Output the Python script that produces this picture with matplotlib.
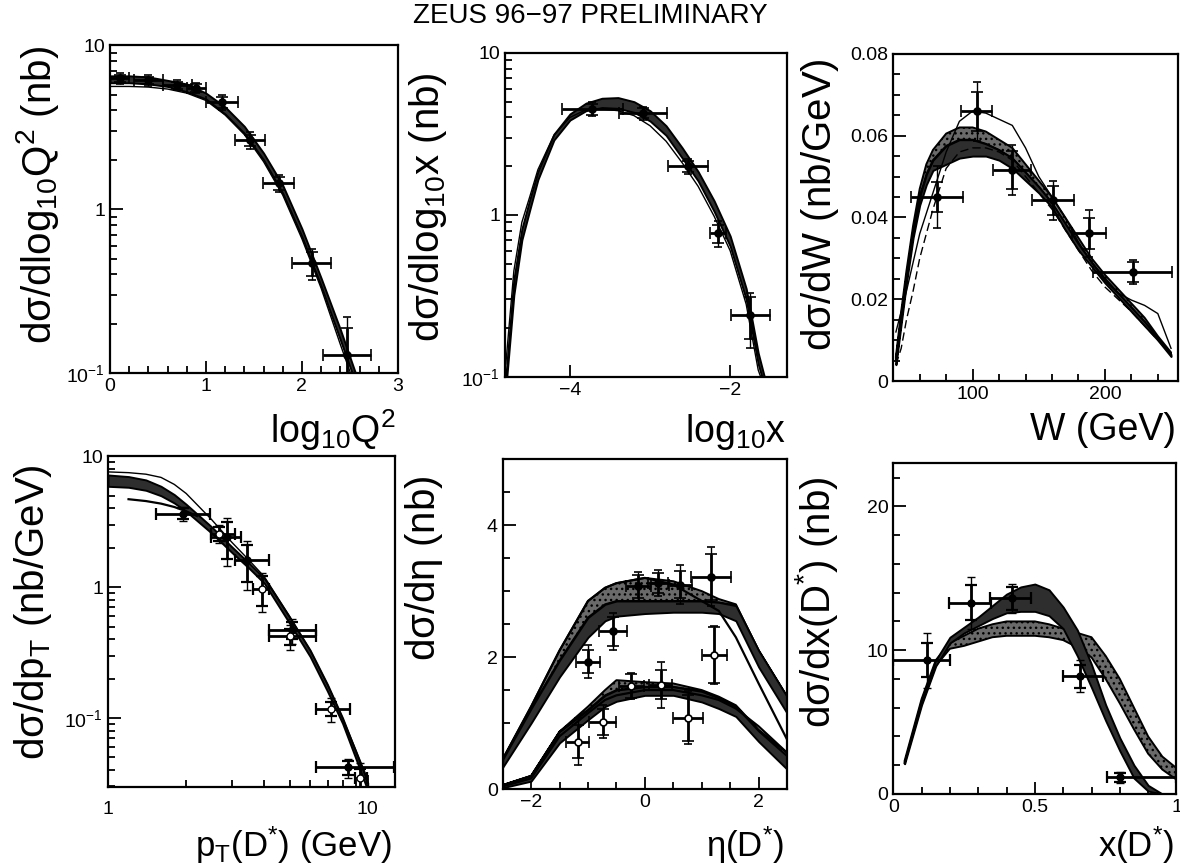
import matplotlib
matplotlib.use("Agg")
import matplotlib.pyplot as plt
from matplotlib.ticker import MultipleLocator, FixedLocator, NullFormatter, FuncFormatter

plt.rcParams['font.family'] = ['Liberation Sans', 'DejaVu Sans']
plt.rcParams['mathtext.default'] = 'regular'

# ---------------- Panel 1: log10 Q^2 ----------------
q2_x = [0.1, 0.4, 0.7, 0.9, 1.165, 1.46, 1.757, 2.10, 2.47]
q2_xerr = [0.1, 0.15, 0.15, 0.1, 0.165, 0.16, 0.16, 0.2, 0.25]
q2_y = [6.3, 6.1, 5.7, 5.5, 4.5, 2.64, 1.44, 0.47, 0.13]
q2_stat = [0.3, 0.3, 0.3, 0.3, 0.35, 0.2, 0.14, 0.08, 0.06]
q2_tot = [0.5, 0.45, 0.4, 0.4, 0.45, 0.3, 0.17, 0.1, 0.09]
q2_grid = [0, 0.2, 0.4, 0.6, 0.8, 1.0, 1.2, 1.4, 1.6, 1.8, 2.0, 2.2, 2.4, 2.6]
q2_lo = [5.9, 5.9, 5.8, 5.6, 5.2, 4.7, 3.8, 2.9, 2.0, 1.25, 0.68, 0.34, 0.16, 0.075]
q2_hi = [6.5, 6.5, 6.4, 6.1, 5.8, 5.1, 4.2, 3.2, 2.2, 1.4, 0.76, 0.38, 0.185, 0.085]
q2_thin = [5.6, 5.6, 5.55, 5.4, 5.1, 4.6, 3.75, 2.85, 1.95, 1.22, 0.66, 0.33, 0.15, 0.07]

# ---------------- Panel 2: log10 x ----------------
lx_x = [-3.72, -3.09, -2.53, -2.15, -1.75]
lx_xerr = [0.385, 0.3, 0.25, 0.1, 0.245]
lx_y = [4.5, 4.25, 2.0, 0.77, 0.24]
lx_stat = [0.35, 0.3, 0.15, 0.1, 0.07]
lx_tot = [0.45, 0.4, 0.2, 0.14, 0.09]
lx_grid = [-4.8, -4.7, -4.6, -4.5, -4.4, -4.2, -4.0, -3.8, -3.6, -3.4, -3.2, -3.0,
           -2.8, -2.6, -2.4, -2.2, -2.0, -1.8, -1.65, -1.55]
lx_hi = [0.10, 0.40, 0.82, 1.25, 1.85, 3.15, 4.2, 4.9, 5.25, 5.3, 5.0, 4.4,
         3.55, 2.6, 1.85, 1.22, 0.74, 0.35, 0.14, 0.09]
lx_lo = [0.085, 0.32, 0.70, 1.08, 1.65, 2.9, 3.85, 4.4, 4.6, 4.55, 4.3, 3.8,
         3.1, 2.25, 1.62, 1.05, 0.64, 0.30, 0.12, 0.08]
lx_thin = [0.12, 0.45, 0.9, 1.3, 1.9, 3.1, 4.0, 4.45, 4.5, 4.4, 4.1, 3.55,
           2.85, 2.1, 1.5, 0.98, 0.6, 0.28, 0.11, 0.08]

# ---------------- Panel 3: W ----------------
w_x = [73, 103, 130, 161, 188, 221]
w_xerr = [19.5, 12, 14.5, 16, 13, 30]
w_y = [0.045, 0.0659, 0.0516, 0.0442, 0.0361, 0.0267]
w_stat = [0.0037, 0.0048, 0.0047, 0.0035, 0.0038, 0.0025]
w_tot = [0.0075, 0.0073, 0.006, 0.0048, 0.0058, 0.003]
w_grid = [42, 46, 50, 55, 60, 65, 70, 80, 90, 100, 110, 120, 130, 140, 150, 160,
          170, 180, 190, 200, 210, 220, 230, 240, 250]
w_top = [0.006, 0.017, 0.027, 0.038, 0.047, 0.053, 0.0565, 0.0605, 0.062, 0.062, 0.061,
         0.059, 0.057, 0.053, 0.049, 0.045, 0.040, 0.035, 0.030, 0.026, 0.0225, 0.019,
         0.0155, 0.011, 0.007]
w_mid = [0.005, 0.0155, 0.0255, 0.0365, 0.045, 0.0505, 0.054, 0.0575, 0.059, 0.059,
         0.058, 0.0565, 0.0545, 0.051, 0.0475, 0.0435, 0.0385, 0.0335, 0.029, 0.025,
         0.0215, 0.018, 0.0145, 0.0105, 0.0065]
w_bot = [0.004, 0.014, 0.024, 0.035, 0.043, 0.048, 0.0515, 0.053, 0.0545, 0.055, 0.055,
         0.054, 0.052, 0.049, 0.046, 0.0425, 0.037, 0.032, 0.028, 0.024, 0.0205, 0.017,
         0.0135, 0.010, 0.006]
w_thin = [0.012, 0.017, 0.022, 0.029, 0.036, 0.041, 0.046, 0.056, 0.0635, 0.066, 0.0655,
          0.064, 0.0625, 0.057, 0.050, 0.045, 0.040, 0.034, 0.029, 0.0245, 0.0215,
          0.0198, 0.0185, 0.0165, 0.008]
w_dash = [0.004, 0.008, 0.015, 0.022, 0.030, 0.036, 0.042, 0.052, 0.056, 0.057, 0.057,
          0.056, 0.054, 0.050, 0.046, 0.042, 0.037, 0.032, 0.027, 0.023, 0.020, 0.017,
          0.0135, 0.010, 0.0065]

# ---------------- Panel 4: pT(D*) ----------------
pt_a = [1.95, 2.87, 3.43, 5.1, 8.37]
pt_a_xlo = [0.42, 0.37, 0.34, 0.94, 2.07]
pt_a_xhi = [0.52, 0.38, 0.73, 1.2, 4.3]
pt_a_y = [3.65, 2.4, 1.6, 0.47, 0.042]
pt_a_stat = [0.35, 0.75, 0.5, 0.07, 0.005]
pt_a_tot = [0.45, 0.95, 0.65, 0.1, 0.007]
pt_b = [2.67, 3.92, 5.0, 7.21, 9.3]
pt_b_xlo = [0.18, 0.3, 0.84, 0.9, 0.4]
pt_b_xhi = [0.4, 0.25, 1.3, 1.3, 0.6]
pt_b_y = [2.56, 0.97, 0.42, 0.118, 0.035]
pt_b_stat = [0.3, 0.25, 0.06, 0.015, 0.006]
pt_b_tot = [0.4, 0.32, 0.09, 0.025, 0.01]
pt_grid = [1.0, 1.2, 1.4, 1.6, 1.8, 2.0, 2.5, 3.0, 3.5, 4.0, 5.0, 6.0, 7.0, 8.0, 9.0, 10.0]
pt_hi = [7.2, 7.0, 6.6, 5.9, 5.1, 4.3, 2.9, 2.03, 1.52, 1.17, 0.59, 0.33, 0.18, 0.10, 0.055, 0.032]
pt_lo = [5.9, 5.8, 5.5, 5.0, 4.4, 3.8, 2.6, 1.84, 1.39, 1.07, 0.53, 0.295, 0.16, 0.091, 0.049, 0.028]
pt_thin = [7.6, 7.5, 7.3, 6.9, 6.1, 5.2, 3.3, 2.2, 1.6, 1.2, 0.6, 0.33, 0.18, 0.10, 0.057, 0.034]
pt_low_x = [1.2, 1.4, 1.6, 1.8, 2.0, 2.2]
pt_low_y = [4.7, 4.55, 4.35, 4.1, 3.8, 3.5]

# ---------------- Panel 5: eta(D*) ----------------
eta_a = [-1.0, -0.56, -0.12, 0.235, 0.62, 1.16]
eta_a_xerr = [0.21, 0.24, 0.22, 0.18, 0.2, 0.35]
eta_a_y = [1.93, 2.39, 3.07, 3.12, 3.1, 3.22]
eta_a_stat = [0.17, 0.22, 0.18, 0.15, 0.2, 0.35]
eta_a_tot = [0.25, 0.28, 0.22, 0.2, 0.3, 0.45]
eta_b = [1.22, -1.18, -0.74, -0.24, 0.28, 0.76]
eta_b_xerr = [0.22, 0.2, 0.24, 0.22, 0.2, 0.26]
eta_b_y = [2.03, 0.72, 1.02, 1.56, 1.58, 1.08]
eta_b_stat = [0.42, 0.25, 0.2, 0.18, 0.22, 0.35]
eta_b_tot = [0.44, 0.35, 0.25, 0.2, 0.35, 0.4]
eta_grid = [-2.5, -2.0, -1.5, -1.0, -0.7, -0.5, 0.0, 0.5, 1.0, 1.3, 1.6, 2.0, 2.5]
eta_u_lo = [0.33, 1.0, 1.7, 2.3, 2.55, 2.62, 2.66, 2.68, 2.68, 2.66, 2.55, 1.85, 1.15]
eta_u_hi = [0.45, 1.22, 1.95, 2.6, 2.8, 2.85, 2.85, 2.85, 2.85, 2.83, 2.78, 2.1, 1.4]
eta_u_top = [0.45, 1.25, 2.1, 2.85, 3.05, 3.12, 3.2, 3.15, 3.0, 2.88, 2.8, 2.1, 1.4]
eta_u_fall = [0.45, 1.25, 2.1, 2.85, 3.05, 3.12, 3.2, 3.1, 2.85, 2.7, 2.3, 1.6, 0.75]
eta_l_lo = [0.02, 0.12, 0.7, 1.05, 1.25, 1.33, 1.42, 1.42, 1.32, 1.22, 1.1, 0.72, 0.3]
eta_l_hi = [0.06, 0.2, 0.87, 1.2, 1.42, 1.5, 1.55, 1.55, 1.48, 1.38, 1.25, 0.88, 0.5]
eta_l_top = [0.06, 0.2, 0.87, 1.25, 1.5, 1.65, 1.62, 1.6, 1.5, 1.4, 1.27, 0.9, 0.55]
eta_l_fall = [0.04, 0.16, 0.8, 1.15, 1.35, 1.42, 1.5, 1.5, 1.42, 1.35, 1.22, 0.95, 0.55]

# ---------------- Panel 6: x(D*) ----------------
xd_x = [0.12, 0.275, 0.42, 0.659, 0.80]
xd_xlo = [0.12, 0.077, 0.077, 0.059, 0.046]
xd_xhi = [0.08, 0.07, 0.065, 0.081, 0.2]
xd_y = [9.3, 13.3, 13.6, 8.2, 1.15]
xd_stat = [1.2, 1.2, 0.8, 0.8, 0.3]
xd_tot = [1.9, 1.8, 1.0, 1.1, 0.4]
xd_grid = [0.04, 0.1, 0.15, 0.2, 0.25, 0.3, 0.35, 0.4, 0.45, 0.5, 0.55, 0.6, 0.65,
           0.7, 0.75, 0.8, 0.85, 0.9, 0.95, 1.0]
xd_u_hi = [2.3, 6.6, 9.3, 10.9, 11.6, 12.3, 13.1, 13.9, 14.4, 14.6, 14.2, 13.0, 11.4,
           9.0, 6.2, 3.9, 2.0, 0.6, 0.0, 0.0]
xd_u_lo = [2.1, 6.2, 8.9, 10.5, 11.2, 11.7, 12.2, 12.6, 12.7, 12.7, 12.4, 11.5, 9.6,
           7.4, 5.1, 3.0, 1.1, 0.2, 0.0, 0.0]
xd_l_hi = [2.3, 6.6, 9.3, 10.5, 11.0, 11.5, 11.8, 12.0, 12.0, 12.0, 11.8, 11.5, 11.2,
           10.9, 9.6, 8.0, 6.0, 4.0, 2.6, 1.8]
xd_l_lo = [2.1, 6.2, 8.9, 10.1, 10.3, 10.6, 10.9, 11.0, 11.0, 11.0, 10.9, 10.7, 10.2,
           9.5, 8.0, 6.3, 4.5, 2.8, 1.7, 1.0]

# ================= drawing =================
fig = plt.figure(figsize=(11.8, 8.68), dpi=100)

DARK = '#2e2e2e'
STIP = '#6a6a6a'
TICKFS = 14
YLABFS = 29
XLABFS = 27


def style(ax):
    for s in ax.spines.values():
        s.set_linewidth(1.6)
    ax.tick_params(which='both', direction='in', top=False, right=False,
                   labelsize=TICKFS, width=1.3)
    ax.tick_params(which='major', length=9)
    ax.tick_params(which='minor', length=5)


def band(ax, x, lo, hi, color=DARK, hatch=None):
    ax.fill_between(x, lo, hi, facecolor=color, edgecolor='black', linewidth=1.4,
                    hatch=hatch, zorder=2)


def points(ax, x, y, xerr, stat, tot, filled=True):
    ax.errorbar(x, y, yerr=tot, fmt='none', ecolor='black', elinewidth=1.0,
                capsize=3, capthick=1.2, zorder=4)
    ax.errorbar(x, y, xerr=xerr, yerr=stat, fmt='o', ms=5,
                mfc='black' if filled else 'white', mec='black', mew=1.2,
                ecolor='black', elinewidth=2.0, capsize=4, capthick=1.6, zorder=5)


def minus_fmt(v, p):
    if abs(v) < 1e-9:
        return '0'
    return ('\u2212%g' % -v) if v < 0 else '%g' % v


# Panel 1
ax1 = fig.add_axes([0.0932, 0.570, 0.244, 0.378])
band(ax1, q2_grid, q2_lo, q2_hi)
ax1.plot(q2_grid, q2_thin, color='black', lw=1.0, zorder=3)
points(ax1, q2_x, q2_y, q2_xerr, q2_stat, q2_tot)
ax1.set_yscale('log')
ax1.set_xlim(0, 3)
ax1.set_ylim(0.1, 10)
ax1.xaxis.set_major_locator(MultipleLocator(1))
ax1.xaxis.set_minor_locator(MultipleLocator(0.2))
ax1.set_yticks([0.1, 1, 10])
ax1.set_yticklabels(['10$^{-1}$', '1', '10'])
ax1.yaxis.set_minor_formatter(NullFormatter())
style(ax1)

# Panel 2
ax2 = fig.add_axes([0.428, 0.566, 0.239, 0.373])
band(ax2, lx_grid, lx_lo, lx_hi)
ax2.plot(lx_grid, lx_thin, color='black', lw=1.0, zorder=3)
points(ax2, lx_x, lx_y, lx_xerr, lx_stat, lx_tot)
ax2.set_yscale('log')
ax2.set_xlim(-4.81, -1.29)
ax2.set_ylim(0.1, 10)
ax2.set_xticks([-4, -2])
ax2.xaxis.set_major_formatter(FuncFormatter(minus_fmt))
ax2.set_yticks([0.1, 1, 10])
ax2.set_yticklabels(['10$^{-1}$', '1', '10'])
ax2.yaxis.set_minor_formatter(NullFormatter())
style(ax2)

# Panel 3
ax3 = fig.add_axes([0.757, 0.561, 0.241, 0.377])
band(ax3, w_grid, w_mid, w_top, color=STIP, hatch='...')
band(ax3, w_grid, w_bot, w_mid)
ax3.plot(w_grid, w_thin, color='black', lw=1.0, zorder=3)
ax3.plot(w_grid, w_dash, color='black', lw=1.0, ls=(0, (6, 3)), zorder=3)
points(ax3, w_x, w_y, w_xerr, w_stat, w_tot)
ax3.set_xlim(40, 255)
ax3.set_ylim(0, 0.08)
ax3.xaxis.set_major_locator(MultipleLocator(100))
ax3.xaxis.set_minor_locator(MultipleLocator(20))
ax3.yaxis.set_major_locator(MultipleLocator(0.02))
ax3.yaxis.set_minor_locator(MultipleLocator(0.005))
ax3.yaxis.set_major_formatter(FuncFormatter(
    lambda v, p: '0' if abs(v) < 1e-9 else '%.2f' % v))
style(ax3)

# Panel 4
ax4 = fig.add_axes([0.0915, 0.0933, 0.243, 0.381])
band(ax4, pt_grid, pt_lo, pt_hi)
ax4.plot(pt_grid, pt_thin, color='black', lw=1.0, zorder=3)
ax4.plot(pt_low_x, pt_low_y, color='black', lw=1.6, zorder=3)
ax4.errorbar(pt_a, pt_a_y, yerr=pt_a_tot, fmt='none', ecolor='black', elinewidth=1.0,
             capsize=3, zorder=4)
ax4.errorbar(pt_a, pt_a_y, xerr=[pt_a_xlo, pt_a_xhi], yerr=pt_a_stat, fmt='o', ms=5,
             mfc='black', mec='black', ecolor='black', elinewidth=2.0, capsize=4,
             capthick=1.6, zorder=5)
ax4.errorbar(pt_b, pt_b_y, yerr=pt_b_tot, fmt='none', ecolor='black', elinewidth=1.0,
             capsize=3, zorder=4)
ax4.errorbar(pt_b, pt_b_y, xerr=[pt_b_xlo, pt_b_xhi], yerr=pt_b_stat, fmt='o', ms=5,
             mfc='white', mec='black', ecolor='black', elinewidth=2.0, capsize=4,
             capthick=1.6, zorder=5)
ax4.set_xscale('log')
ax4.set_yscale('log')
ax4.set_xlim(1, 12.7)
ax4.set_ylim(0.0297, 10)
ax4.set_xticks([1, 10])
ax4.set_xticklabels(['1', '10'])
ax4.xaxis.set_minor_formatter(NullFormatter())
ax4.set_yticks([0.1, 1, 10])
ax4.set_yticklabels(['10$^{-1}$', '1', '10'])
ax4.yaxis.set_minor_formatter(NullFormatter())
style(ax4)
ax4.tick_params(axis='x', which='major', pad=10)

# Panel 5
ax5 = fig.add_axes([0.426, 0.091, 0.241, 0.380])
band(ax5, eta_grid, eta_u_hi, eta_u_top, color=STIP, hatch='...')
band(ax5, eta_grid, eta_u_lo, eta_u_hi)
ax5.plot(eta_grid, eta_u_fall, color='black', lw=1.6, zorder=3)
band(ax5, eta_grid, eta_l_hi, eta_l_top, color=STIP, hatch='...')
band(ax5, eta_grid, eta_l_lo, eta_l_hi)
ax5.plot(eta_grid, eta_l_fall, color='black', lw=1.6, zorder=3)
points(ax5, eta_a, eta_a_y, eta_a_xerr, eta_a_stat, eta_a_tot, filled=True)
points(ax5, eta_b, eta_b_y, eta_b_xerr, eta_b_stat, eta_b_tot, filled=False)
ax5.set_xlim(-2.5, 2.5)
ax5.set_ylim(0, 5)
ax5.xaxis.set_major_locator(MultipleLocator(2))
ax5.xaxis.set_minor_locator(MultipleLocator(0.5))
ax5.yaxis.set_major_locator(FixedLocator([0, 2, 4]))
ax5.yaxis.set_minor_locator(MultipleLocator(0.5))
ax5.xaxis.set_major_formatter(FuncFormatter(minus_fmt))
style(ax5)

# Panel 6
ax6 = fig.add_axes([0.757, 0.0853, 0.240, 0.381])
band(ax6, xd_grid, xd_l_lo, xd_l_hi, color=STIP, hatch='...')
band(ax6, xd_grid, xd_u_lo, xd_u_hi)
ax6.errorbar(xd_x, xd_y, yerr=xd_tot, fmt='none', ecolor='black', elinewidth=1.0,
             capsize=3, zorder=4)
ax6.errorbar(xd_x, xd_y, xerr=[xd_xlo, xd_xhi], yerr=xd_stat, fmt='o', ms=5,
             mfc='black', mec='black', ecolor='black', elinewidth=2.0, capsize=4,
             capthick=1.6, zorder=5)
ax6.set_xlim(0, 1)
ax6.set_ylim(0, 23)
ax6.xaxis.set_major_locator(FixedLocator([0, 0.5, 1]))
ax6.xaxis.set_minor_locator(MultipleLocator(0.1))
ax6.yaxis.set_major_locator(MultipleLocator(10))
ax6.yaxis.set_minor_locator(MultipleLocator(2))
ax6.xaxis.set_major_formatter(FuncFormatter(lambda v, p: '%g' % v))
style(ax6)

# labels
fig.text(0.5, 0.981, 'ZEUS 96\u221297 PRELIMINARY', ha='center', va='center', fontsize=20)

ylab = dict(rotation=90, ha='center', va='center', fontsize=YLABFS)
fig.text(38 / 1180, 1 - 195 / 868, r'd$\sigma$/dlog$_{10}$Q$^{2}$ (nb)', **ylab)
fig.text(428 / 1180, 1 - 207 / 868, r'd$\sigma$/dlog$_{10}$x (nb)', **ylab)
fig.text(820 / 1180, 1 - 205 / 868, r'd$\sigma$/dW (nb/GeV)', **ylab)
fig.text(33 / 1180, 1 - 612 / 868, r'd$\sigma$/dp$_{T}$ (nb/GeV)', **ylab)
fig.text(424 / 1180, 1 - 568 / 868, r'd$\sigma$/d$\eta$ (nb)', **ylab)
fig.text(816 / 1180, 1 - 602 / 868, r'd$\sigma$/dx(D$^{*}$) (nb)', **ylab)

xlab = dict(ha='right', va='center', fontsize=XLABFS)
fig.text(396 / 1180, 1 - 430 / 868, r'log$_{10}$Q$^{2}$', **xlab)
fig.text(786 / 1180, 1 - 432 / 868, r'log$_{10}$x', **xlab)
fig.text(1176 / 1180, 1 - 430 / 868, 'W (GeV)', **xlab)
blab = dict(ha='right', va='center', fontsize=25)
fig.text(392 / 1180, 1 - 845 / 868, r'p$_{T}$(D$^{*}$) (GeV)', **blab)
fig.text(784 / 1180, 1 - 845 / 868, r'$\eta$(D$^{*}$)', **blab)
fig.text(1174 / 1180, 1 - 845 / 868, r'x(D$^{*}$)', **blab)

fig.savefig('out.png', dpi=100)
